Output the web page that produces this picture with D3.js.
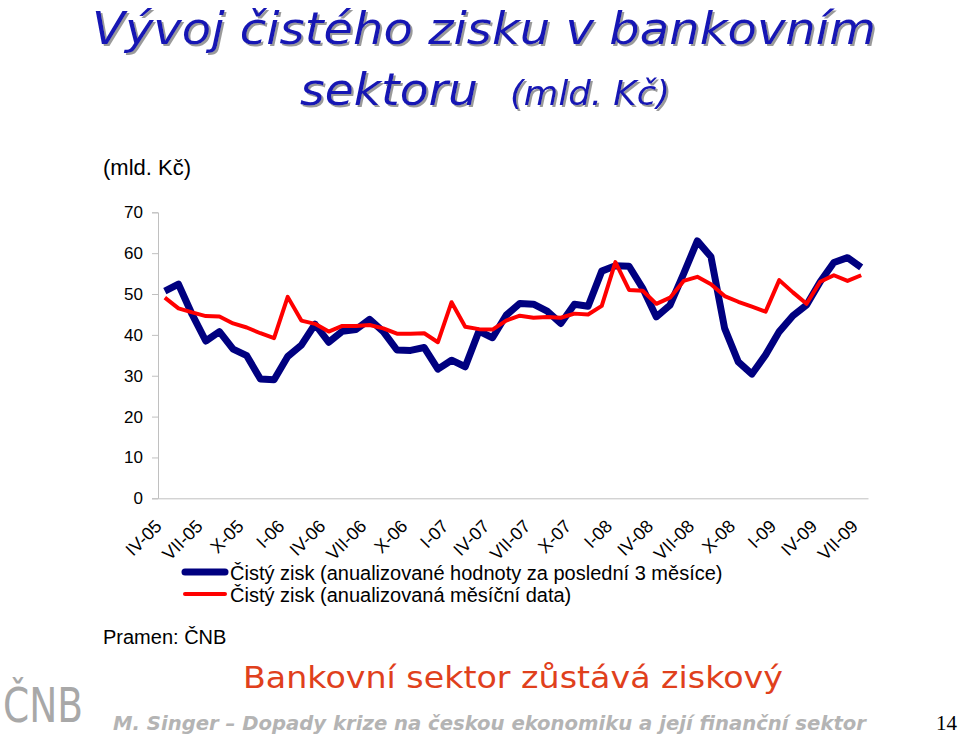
<!DOCTYPE html>
<html><head><meta charset="utf-8">
<script src="https://cdn.jsdelivr.net/npm/d3@7"></script>
<style>body{margin:0;background:#fff}svg{display:block}</style>
</head><body>
<svg id="c" width="959" height="735"></svg>
<script>
const months = ["I","II","III","IV","V","VI","VII","VIII","IX","X","XI","XII"];
const categories = [];
for (let y = 2005; y <= 2009; y++) for (let m = 0; m < 12; m++) {
  if ((y === 2005 && m < 3) || (y === 2009 && m > 6)) continue;
  categories.push(months[m] + "-" + String(y).slice(2));
}
const annualized3m = [50.7,52.4,45.0,38.5,40.8,36.5,34.9,29.2,29.0,34.7,37.5,42.6,38.2,40.9,41.3,43.8,40.8,36.3,36.2,36.9,31.6,33.8,32.2,40.9,39.3,44.8,47.7,47.5,45.8,42.8,47.5,47.0,55.6,56.9,56.8,51.4,44.4,47.3,55.0,63.0,59.1,41.6,33.4,30.4,35.1,40.8,44.7,47.3,53.0,57.7,58.9,56.5];
const monthly = [49.1,46.5,45.5,44.6,44.5,42.8,41.8,40.4,39.2,49.3,43.5,42.7,40.8,42.2,42.2,42.4,41.6,40.3,40.3,40.4,38.2,48.0,42.0,41.4,41.3,43.5,44.7,44.2,44.4,44.2,45.2,45.0,47.1,57.8,51.0,50.8,47.6,49.1,53.2,54.2,52.4,49.5,48.1,46.9,45.7,53.4,50.4,47.6,53.0,54.6,53.2,54.6];
const yTicks = [0,10,20,30,40,50,60,70];
const seriesNames = ["Čistý zisk (anualizované hodnoty za poslední 3 měsíce)","Čistý zisk (anualizovaná měsíční data)"];

const svg = d3.select("#c");
const font = "'Liberation Sans', Arial, sans-serif";

const defs = svg.append("defs");
defs.append("filter").attr("id","sh").attr("x","-5%").attr("y","-20%").attr("width","115%").attr("height","150%")
  .append("feDropShadow").attr("dx",2).attr("dy",2).attr("stdDeviation",0.6).attr("flood-color","#9a9a9a").attr("flood-opacity",1);

// Title
const tf = "'DejaVu Sans', Verdana, sans-serif";
svg.append("text").attr("x", 484).attr("y", 44).attr("text-anchor","middle")
  .attr("font-family",tf).attr("font-style","italic").attr("filter","url(#sh)")
  .attr("font-size",44).attr("textLength",784).attr("lengthAdjust","spacingAndGlyphs")
  .attr("fill","#1414b4").text("Vývoj čistého zisku v bankovním");
svg.append("text").attr("x", 300).attr("y", 105)
  .attr("font-family",tf).attr("font-style","italic").attr("filter","url(#sh)")
  .attr("font-size",44).attr("textLength",178).attr("lengthAdjust","spacingAndGlyphs")
  .attr("fill","#1414b4").text("sektoru");
svg.append("text").attr("x", 510).attr("y", 105)
  .attr("font-family",tf).attr("font-style","italic").attr("filter","url(#sh)")
  .attr("font-size",33).attr("textLength",160).attr("lengthAdjust","spacingAndGlyphs")
  .attr("fill","#1414b4").text("(mld. Kč)");

const L = 158, R = 868, T = 212.3, B = 498.3;
const x = d3.scaleBand().domain(categories).range([L, R]);
const y = d3.scaleLinear().domain([0,70]).range([B, T]);

svg.append("text").attr("x",103).attr("y",175).attr("font-family",font).attr("font-size",22).text("(mld. Kč)");

// Y axis
const ya = svg.append("g").attr("transform",`translate(${L},0)`).call(d3.axisLeft(y).tickValues(yTicks).tickSize(6).tickPadding(9));
ya.select(".domain").attr("stroke","#c0c0c0");
ya.selectAll(".tick line").attr("stroke","#c0c0c0");
ya.selectAll(".tick text").attr("font-family",font).attr("font-size",17).attr("fill","#000");

// X axis
const xa = svg.append("g").attr("transform",`translate(0,${B})`).call(d3.axisBottom(x).tickSize(0).tickValues(categories.filter((d,i)=>i%3===0)));
xa.select(".domain").attr("stroke","#c0c0c0");
xa.selectAll(".tick text").attr("font-family",font).attr("font-size",18).attr("fill","#000")
  .attr("text-anchor","end").attr("dy",null).attr("y",0)
  .attr("transform","translate(-2,29) rotate(-45)");

const cx = d => x(d) + x.bandwidth()/2;
const line = d3.line().x((d,i)=>cx(categories[i])).y(d=>y(d));
svg.append("path").datum(annualized3m).attr("d",line).attr("fill","none").attr("stroke","#000080").attr("stroke-width",7).attr("stroke-linejoin","round");
svg.append("path").datum(monthly).attr("d",line).attr("fill","none").attr("stroke","#ff0000").attr("stroke-width",4).attr("stroke-linejoin","round");

// Legend
const leg = svg.append("g");
[["#000080",7,572],["#ff0000",4,594]].forEach(([c,w,yy],i)=>{
  leg.append("line").attr("x1",185).attr("x2",225).attr("y1",yy).attr("y2",yy).attr("stroke",c).attr("stroke-width",w).attr("stroke-linecap","round");
  leg.append("text").attr("x",230).attr("y",yy+8).attr("font-family",font).attr("font-size",20).text(seriesNames[i]);
});

svg.append("text").attr("x",103).attr("y",644).attr("font-family",font).attr("font-size",20).text("Pramen: ČNB");
svg.append("text").attr("x",513).attr("y",688).attr("text-anchor","middle").attr("font-family",tf)
  .attr("font-size",30).attr("textLength",540).attr("lengthAdjust","spacingAndGlyphs").attr("fill","#e0401c").text("Bankovní sektor zůstává ziskový");
svg.append("text").attr("x",113).attr("y",730).attr("font-family",tf).attr("font-style","italic").attr("font-weight","bold")
  .attr("font-size",20).attr("textLength",753).attr("lengthAdjust","spacingAndGlyphs").attr("fill","#b4b4b4").text("M. Singer – Dopady krize na českou ekonomiku a její finanční sektor");
svg.append("text").attr("x",957).attr("y",730).attr("text-anchor","end").attr("font-family","'Liberation Serif', serif").attr("font-size",21).attr("fill","#000").text("14");
svg.append("text").attr("x",3).attr("y",722).attr("font-family","'DejaVu Sans Condensed', 'Liberation Sans Narrow', sans-serif")
  .attr("font-size",48).attr("textLength",80).attr("lengthAdjust","spacingAndGlyphs").attr("fill","#a8a8a8").text("ČNB");
</script>
</body></html>
